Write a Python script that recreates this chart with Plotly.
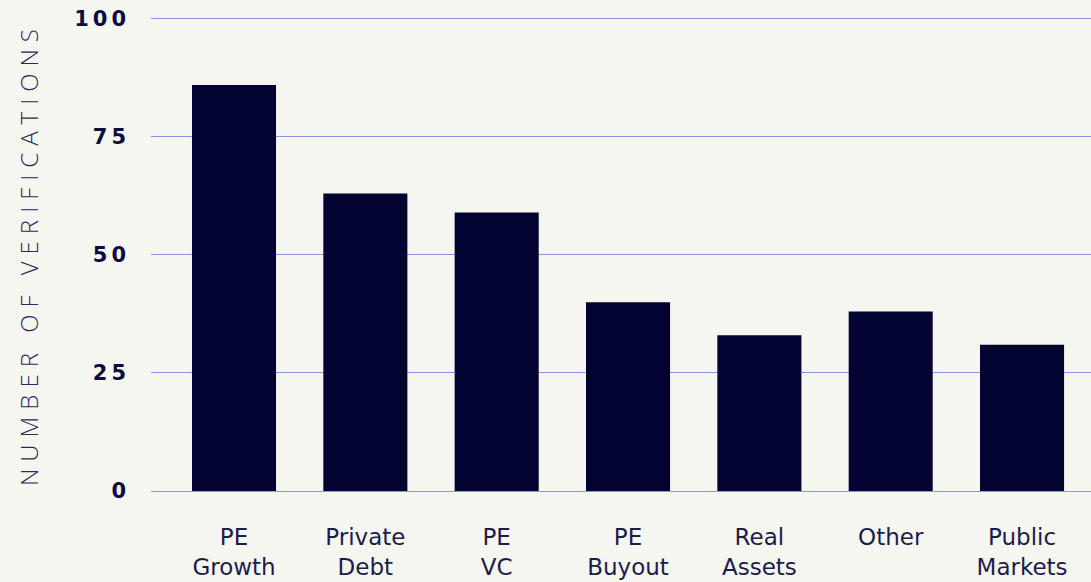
import plotly.graph_objects as go

# Verification counts per strategy
categories = ["PE<br>Growth", "Private<br>Debt", "PE<br>VC", "PE<br>Buyout",
              "Real<br>Assets", "Other", "Public<br>Markets"]
verifications = [86, 63, 59, 40, 33, 38, 31]
tick_values = [0, 25, 50, 75, 100]
tick_labels = ["0", "25", "50", "75", "100"]

BG = "#f6f6f1"
BAR = "#030332"
GRID = "#8a96ec"
INK = "#0d0d3d"


def spaced(text, px):
    return f"<span style='letter-spacing:{px}px'>{text}</span>"


fig = go.Figure(
    go.Bar(
        x=categories,
        y=verifications,
        marker=dict(color=BAR, line=dict(width=0)),
        width=0.64,
    )
)

fig.update_layout(
    template="none",
    width=1091,
    height=582,
    paper_bgcolor=BG,
    plot_bgcolor=BG,
    margin=dict(l=151, r=0, t=17, b=91),
    showlegend=False,
    font=dict(family="DejaVu Sans", color=INK),
)

fig.update_xaxes(
    range=[-0.632, 6.525],
    showgrid=False,
    zeroline=False,
    showline=False,
    ticks="",
    ticklabelstandoff=30,
    tickfont=dict(family="DejaVu Sans", size=23, color="#1c1c4c"),
)

fig.update_yaxes(
    range=[0, 100.4],
    tickmode="array",
    tickvals=tick_values,
    ticktext=[spaced(t, 4) for t in tick_labels],
    tickfont=dict(family="DejaVu Sans", size=21, color=INK, weight="bold"),
    ticklabelstandoff=20,
    showgrid=True,
    gridcolor=GRID,
    gridwidth=1,
    zeroline=True,
    zerolinecolor=GRID,
    zerolinewidth=1,
    showline=False,
    ticks="",
    title=dict(
        text=spaced("NUMBER OF VERIFICATIONS", 7),
        font=dict(family="Open Sans", size=24, color="#2a2a5a", weight=300),
        standoff=28,
    ),
)

fig.write_html("out.html")
